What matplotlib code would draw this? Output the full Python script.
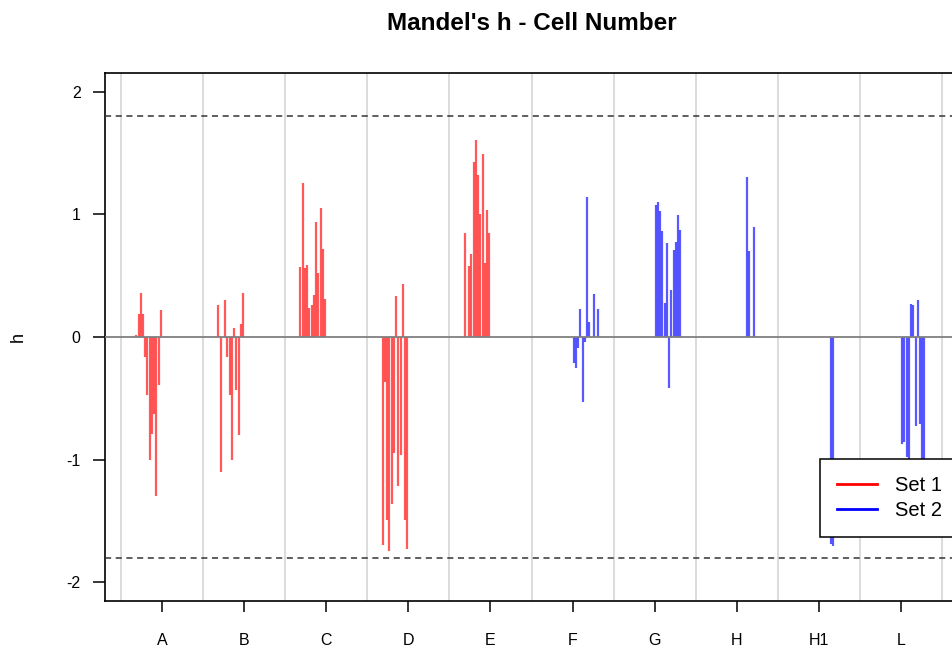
import numpy as np
import matplotlib.pyplot as plt
from matplotlib.lines import Line2D

plt.rcParams['font.family'] = ['Liberation Sans', 'DejaVu Sans']
plt.rcParams['axes.unicode_minus'] = False

nan = np.nan

# groups (x axis) and which set each belongs to
groups = ['A', 'B', 'C', 'D', 'E', 'F', 'G', 'H', 'H1', 'L']
set1_groups = ['A', 'B', 'C', 'D', 'E']

# Mandel's h per lab (12 labs per set), nan = no value
h_A = [0.02, 0.19, 0.36, 0.185, -0.165, -0.47, -1.00, -0.79, -0.63, -1.30, -0.39, 0.22]
h_B = [0.26, -1.10, nan, 0.30, -0.165, -0.47, -1.00, 0.07, -0.43, -0.80, 0.11, 0.36]
h_C = [0.57, 1.26, 0.56, 0.585, 0.24, 0.26, 0.34, 0.94, 0.525, 1.05, 0.72, 0.31]
h_D = [-1.70, -0.37, -1.49, -1.75, -1.36, -0.95, 0.335, -1.22, -0.96, 0.43, -1.49, -1.73]
h_E = [0.845, nan, 0.58, 0.68, 1.43, 1.61, 1.32, 1.00, 1.49, 0.60, 1.04, 0.85]
h_F = [-0.215, -0.255, -0.09, 0.225, -0.53, -0.04, 1.14, 0.12, nan, 0.355, nan, 0.225]
h_G = [1.08, 1.10, 1.03, 0.865, 0.28, 0.765, -0.42, 0.38, 0.71, 0.775, 0.995, 0.87]
h_H = [nan, nan, nan, nan, 1.31, 0.70, nan, 0.90, nan, nan, nan, nan]
h_H1 = [nan, nan, nan, nan, nan, -1.69, -1.71, nan, nan, nan, nan, nan]
h_L = [-0.875, -0.86, -0.98, -1.15, 0.27, 0.26, -0.73, 0.30, -0.71, -1.30, -1.20, nan]

h_values = [h_A, h_B, h_C, h_D, h_E, h_F, h_G, h_H, h_H1, h_L]
h_crit = 1.8

step = 0.0273  # spacing between labs inside a group

fig = plt.figure(figsize=(9.52, 6.51), dpi=100)
ax = fig.add_axes([105/952, 50/651, 853/952, 528/651])

# group separators
for b in np.arange(0.5, len(groups) + 1, 1):
    ax.axvline(b, color='#d9d9d9', lw=1.3, zorder=0)

for i, (g, vals) in enumerate(zip(groups, h_values)):
    v = np.array(vals, dtype=float)
    if g in set1_groups:
        offs = (np.arange(len(v)) - 11.5) * step
        col = 'red'
    else:
        offs = (np.arange(len(v)) + 0.5) * step
        col = 'blue'
    x = i + 1 + offs
    m = ~np.isnan(v)
    ax.vlines(x[m], 0, v[m], colors=col, lw=1.6, alpha=0.65, zorder=2)

ax.axhline(0, color='#7f7f7f', lw=1.3, zorder=3)
ax.axhline(h_crit, color='#333333', lw=1.1, ls=(0, (4, 3)), zorder=3)
ax.axhline(-h_crit, color='#333333', lw=1.1, ls=(0, (4, 3)), zorder=3)

ax.set_xlim(0.305, 10.695)
ax.set_ylim(-2.155, 2.155)
ax.set_xticks(range(1, len(groups) + 1))
ax.set_xticklabels(groups)
ax.set_yticks([-2, -1, 0, 1, 2])
ax.tick_params(axis='x', direction='out', length=8, width=1.1, pad=15, labelsize=11.5)
ax.tick_params(axis='y', direction='out', length=8.5, width=1.1, pad=9, labelsize=11.5)
for s in ax.spines.values():
    s.set_linewidth(1.2)

ax.set_ylabel('h', fontsize=13)
ax.yaxis.set_label_coords(-0.092, 0.5)

fig.text(531.5/952, 1 - 23/651, "Mandel's h - Cell Number", ha='center', va='center',
         fontsize=17.5, fontweight='bold')

handles = [Line2D([], [], color='red', lw=2), Line2D([], [], color='blue', lw=2)]
leg = ax.legend(handles, ['Set 1', 'Set 2'], loc='upper left', bbox_to_anchor=(0.838, 0.269),
                borderaxespad=0, fontsize=14.5, fancybox=False, framealpha=1,
                edgecolor='black', handlelength=2, handletextpad=0.9,
                borderpad=0.85, labelspacing=0.3)
leg.get_frame().set_linewidth(1.1)
leg.set_zorder(5)

fig.savefig('out.png', dpi=100)
